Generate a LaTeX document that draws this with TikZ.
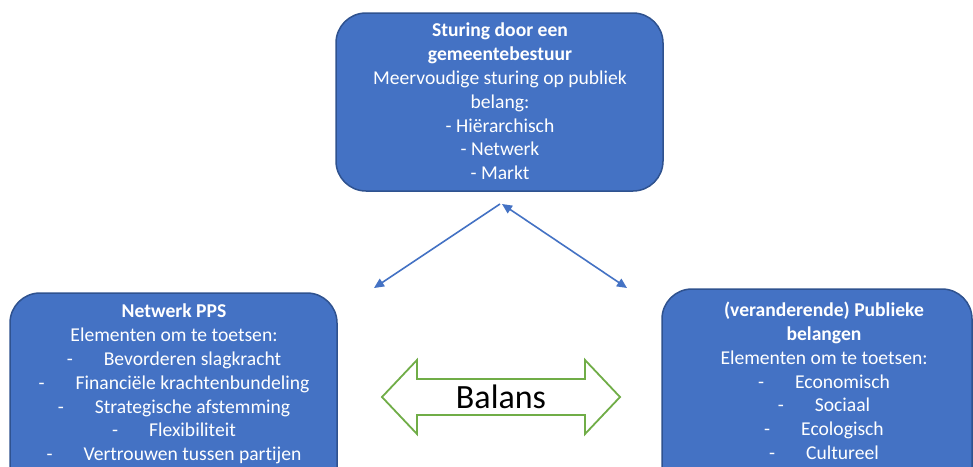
\documentclass[tikz,border=0pt]{standalone}
\usepackage{fontspec}
\setmainfont{Carlito}[Ligatures=NoCommon]
\usetikzlibrary{arrows.meta}
\definecolor{boxfill}{HTML}{4472C4}
\definecolor{boxline}{HTML}{2F528F}
\definecolor{balgreen}{HTML}{70AD47}
\tikzset{
  panel/.style={draw=boxline, line width=1.5pt, fill=boxfill, rounded corners=30pt},
  paneltext/.style={text=white, align=center, inner sep=0pt, anchor=north,
    font=\fontsize{19.6}{23.8}\selectfont},
  link/.style={draw=boxfill, line width=1.6pt, {Triangle[length=10pt,width=9pt]}-{Triangle[length=10pt,width=9pt]}},
  linkone/.style={draw=boxfill, line width=1.6pt, -{Triangle[length=10pt,width=9pt]}},
}
\newcommand{\dashitem}[1]{-\hspace{31pt}#1}
\begin{document}
\begin{tikzpicture}[x=1pt,y=-1pt]
\clip (0,0) rectangle (973,466);
\fill[white] (0,0) rectangle (973,466);
% top box
\draw[panel] (336,13) rectangle (663,191);
\node[paneltext] (toptext) at (500,23) {\textbf{Sturing door een}\\ \textbf{gemeentebestuur}\\ Meervoudige sturing op publiek\\ belang:\\ - Hiërarchisch\\ - Netwerk\\ - Markt};
% left box
\draw[panel] (10,293) rectangle (337,520);
\node[paneltext] (lefttext) at (174,304) {\textbf{Netwerk PPS}\\ Elementen om te toetsen:\\ \dashitem{Bevorderen slagkracht}\\ \dashitem{Financiële krachtenbundeling}\\ \dashitem{Strategische afstemming}\\ \dashitem{Flexibiliteit}\\ \dashitem{Vertrouwen tussen partijen}};
% right box
\draw[panel] (662,289) rectangle (972,520);
\node[paneltext] (righttext) at (824,302) {\textbf{(veranderende) Publieke}\\ \textbf{belangen}\\ Elementen om te toetsen:\\ \dashitem{Economisch}\\ \dashitem{Sociaal}\\ \dashitem{Ecologisch}\\ \dashitem{Cultureel}};
% connectors
\coordinate (la) at (500,204);
\coordinate (lb) at (374,288);
\coordinate (ra) at (502,204);
\coordinate (rb) at (627,288);
\draw[linkone] (la) -- (lb);
\draw[link] (ra) -- (rb);
% balance arrow
\draw[balgreen, line width=1.8pt, fill=white, line join=miter]
  (382,397) -- (417,360) -- (417,379) -- (585,379) -- (585,360) -- (620,397)
  -- (585,434) -- (585,415) -- (417,415) -- (417,434) -- cycle;
\node[font=\fontsize{34}{40}\selectfont, inner sep=0pt] (balans) at (501,397) {Balans};
\end{tikzpicture}
\end{document}
